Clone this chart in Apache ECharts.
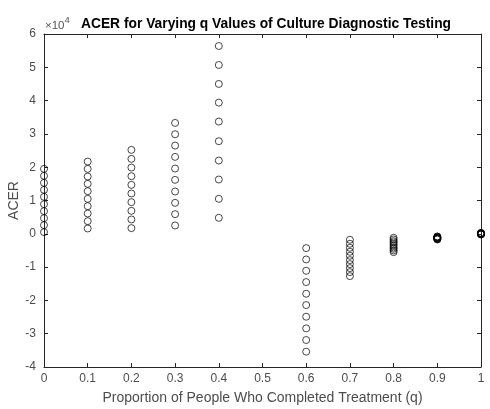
<!DOCTYPE html>
<html>
<head>
<meta charset="utf-8">
<script src="https://cdn.jsdelivr.net/npm/echarts@6/dist/echarts.min.js"></script>
<style>
  html, body { margin: 0; padding: 0; background: #fff; }
  #acer-chart { width: 490px; height: 409px; }
</style>
</head>
<body>
<div id="acer-chart"></div>
<script>
// values, in units of 1e4
var qValues = [0, 0.1, 0.2, 0.3, 0.4, 0.6, 0.7, 0.8, 0.9, 1];
var acerQ00 = [0.05, 0.26, 0.47, 0.68, 0.89, 1.11, 1.32, 1.53, 1.74, 1.95];
var acerQ01 = [0.16, 0.38, 0.61, 0.83, 1.05, 1.28, 1.50, 1.72, 1.95, 2.17];
var acerQ02 = [0.17, 0.43, 0.69, 0.95, 1.21, 1.47, 1.73, 1.99, 2.25, 2.52];
var acerQ03 = [0.25, 0.59, 0.93, 1.27, 1.62, 1.96, 2.31, 2.65, 2.99, 3.33];
var acerQ04 = [0.48, 1.05, 1.63, 2.20, 2.78, 3.37, 3.94, 4.50, 5.07, 5.64];
var acerQ06 = [-0.43, -0.77, -1.11, -1.45, -1.80, -2.14, -2.49, -2.84, -3.19, -3.54];
var acerQ07 = [-0.18, -0.30, -0.42, -0.54, -0.66, -0.79, -0.91, -1.03, -1.15, -1.27];
var acerQ08 = [-0.12, -0.17, -0.22, -0.26, -0.31, -0.36, -0.41, -0.45, -0.50, -0.55];
var acerQ09 = [-0.08, -0.09, -0.10, -0.11, -0.12, -0.13, -0.14, -0.15, -0.16, -0.17];
var acerQ10 = [-0.02, -0.015, -0.01, -0.005, 0, 0.005, 0.01, 0.015, 0.02, 0.03];
var acerColumns = [acerQ00, acerQ01, acerQ02, acerQ03, acerQ04, acerQ06, acerQ07, acerQ08, acerQ09, acerQ10];

var xTicks = [0, 0.1, 0.2, 0.3, 0.4, 0.5, 0.6, 0.7, 0.8, 0.9, 1];
var yTicks = [-4, -3, -2, -1, 0, 1, 2, 3, 4, 5, 6];
var yScale = 10000;

var points = [];
acerColumns.forEach(function (col, i) {
  col.forEach(function (v) {
    points.push([qValues[i], v * yScale]);
  });
});

var axisColor = '#262626';
var labelColor = '#4d4d4d';
var fontFamily = 'Liberation Sans, Arial, sans-serif';

var chart = echarts.init(document.getElementById('acer-chart'));
var option = {
  animation: false,
  backgroundColor: '#fff',
  textStyle: { fontFamily: fontFamily },
  title: {
    text: 'ACER for Varying q Values of Culture Diagnostic Testing',
    left: 261,
    textAlign: 'center',
    top: 12,
    textStyle: { fontSize: 13.8, fontWeight: 'bold', color: '#000', fontFamily: fontFamily }
  },
  graphic: [{
    type: 'text',
    left: 45,
    top: 15,
    style: {
      text: '{m|×10}{e|4}',
      rich: {
        m: { fontSize: 11.5, fill: '#555', fontFamily: fontFamily, verticalAlign: 'bottom' },
        e: { fontSize: 9.5, fill: '#555', fontFamily: fontFamily, verticalAlign: 'top', padding: [0, 0, 7, 0] }
      }
    }
  }],
  grid: { left: 44, right: 9, top: 34, bottom: 42, show: false, outerBoundsMode: 'none', containLabel: false },
  xAxis: [{
    type: 'value',
    min: xTicks[0],
    max: xTicks[xTicks.length - 1],
    interval: 0.1,
    name: 'Proportion of People Who Completed Treatment (q)',
    nameLocation: 'middle',
    nameGap: 24,
    nameMoveOverlap: false,
    nameTextStyle: { fontSize: 14, color: labelColor },
    axisLine: { show: true, onZero: false, lineStyle: { color: axisColor, width: 1 } },
    axisTick: { show: true, inside: true, length: 4, lineStyle: { color: axisColor } },
    axisLabel: { fontSize: 12, color: labelColor, margin: 6 },
    splitLine: { show: false }
  }, {
    type: 'value',
    position: 'top',
    min: xTicks[0],
    max: xTicks[xTicks.length - 1],
    interval: 0.1,
    axisLine: { show: true, onZero: false, lineStyle: { color: axisColor, width: 1 } },
    axisTick: { show: true, inside: true, length: 4, lineStyle: { color: axisColor } },
    axisLabel: { show: false },
    splitLine: { show: false }
  }],
  yAxis: [{
    type: 'value',
    min: yTicks[0] * yScale,
    max: yTicks[yTicks.length - 1] * yScale,
    interval: yScale,
    name: 'ACER',
    nameLocation: 'middle',
    nameGap: 23,
    nameMoveOverlap: false,
    nameTextStyle: { fontSize: 14, color: labelColor },
    axisLine: { show: true, onZero: false, lineStyle: { color: axisColor, width: 1 } },
    axisTick: { show: true, inside: true, length: 4, lineStyle: { color: axisColor } },
    axisLabel: {
      fontSize: 12, color: labelColor, margin: 8,
      formatter: function (v) { return String(Math.round(v / yScale)); }
    },
    splitLine: { show: false }
  }, {
    type: 'value',
    position: 'right',
    min: yTicks[0] * yScale,
    max: yTicks[yTicks.length - 1] * yScale,
    interval: yScale,
    axisLine: { show: true, onZero: false, lineStyle: { color: axisColor, width: 1 } },
    axisTick: { show: true, inside: true, length: 4, lineStyle: { color: axisColor } },
    axisLabel: { show: false },
    splitLine: { show: false }
  }],
  series: [{
    type: 'scatter',
    xAxisIndex: 0,
    yAxisIndex: 0,
    data: points,
    clip: false,
    symbol: 'circle',
    symbolSize: 7,
    itemStyle: { color: 'rgba(0,0,0,0)', borderColor: '#000', borderWidth: 0.9 }
  }]
};
chart.setOption(option);
</script>
</body>
</html>
